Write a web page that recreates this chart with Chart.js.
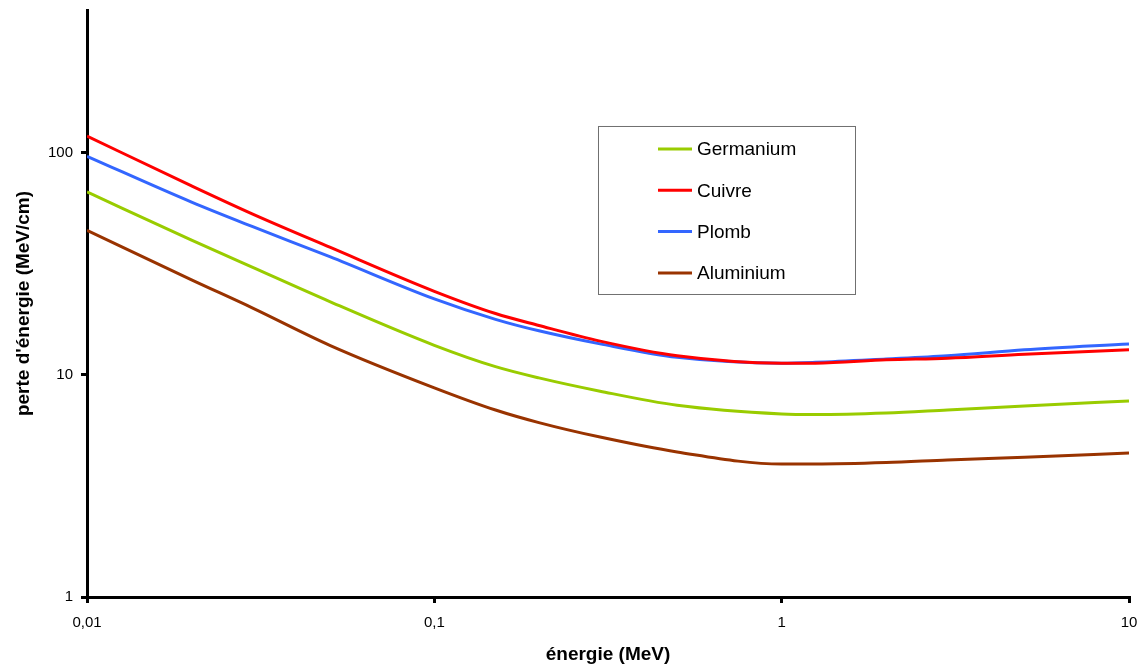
<!DOCTYPE html>
<html lang="fr">
<head>
    <meta charset="UTF-8">
    <title>perte d'énergie</title>
    <script src="https://cdn.jsdelivr.net/npm/chart.js"></script>
    <style>
        html, body { margin: 0; padding: 0; background: #fff; }
        #wrap { width: 1141px; height: 666px; position: relative; }
    </style>
</head>
<body>
    <div id="wrap"><canvas id="lossChart"></canvas></div>
    <script>
        // énergie (MeV)
        const energies = [0.01, 0.02, 0.03, 0.05, 0.1, 0.15, 0.2, 0.3, 0.5, 1, 1.25, 2, 3, 5, 10];

        // perte d'énergie (MeV/cm)
        const germanium = [66.7, 40.5, 30.5, 21.4, 13.6, 10.9, 9.7, 8.45, 7.3, 6.67, 6.63, 6.74, 6.96, 7.25, 7.64];
        const cuivre    = [119, 71, 53, 37.6, 23.8, 18.9, 16.7, 14.2, 12.2, 11.3, 11.3, 11.7, 11.9, 12.4, 12.97];
        const plomb     = [96.5, 60, 46.5, 34.1, 22.0, 17.8, 15.8, 13.8, 12.0, 11.3, 11.4, 11.8, 12.2, 12.97, 13.8];
        const aluminium = [44.8, 26.8, 20, 13.6, 8.75, 6.95, 6.1, 5.25, 4.5, 3.97, 3.97, 4.03, 4.14, 4.26, 4.45];

        const xTicks = [0.01, 0.1, 1, 10];
        const xTickLabels = ['0,01', '0,1', '1', '10'];
        const yTicks = [1, 10, 100];

        const toPoints = (vals) => energies.map((e, i) => ({ x: e, y: vals[i] }));

        const makeSet = (label, vals, color) => ({
            label: label,
            data: toPoints(vals),
            borderColor: color,
            backgroundColor: color,
            borderWidth: 3,
            pointRadius: 0,
            cubicInterpolationMode: 'monotone',
            fill: false
        });

        // légende dessinée dans la zone du graphique (encadré comme Excel)
        const boxLegend = {
            id: 'boxLegend',
            afterDatasetsDraw(chart) {
                const ctx = chart.ctx;
                const a = chart.chartArea;
                const w = a.right - a.left, h = a.bottom - a.top;
                const left = a.left + w * 0.4904;
                const top = a.top + h * 0.1976;
                const bw = 257, bh = 168;
                ctx.save();
                ctx.fillStyle = '#fff';
                ctx.fillRect(left, top, bw, bh);
                ctx.strokeStyle = '#707070';
                ctx.lineWidth = 1;
                ctx.strokeRect(left + 0.5, top + 0.5, bw, bh);
                ctx.font = '19px "Liberation Sans", Arial, sans-serif';
                ctx.textBaseline = 'middle';
                chart.data.datasets.forEach((ds, i) => {
                    const y = top + 23 + i * 41.3;
                    ctx.strokeStyle = ds.borderColor;
                    ctx.lineWidth = 3;
                    ctx.beginPath();
                    ctx.moveTo(left + 60, y);
                    ctx.lineTo(left + 94, y);
                    ctx.stroke();
                    ctx.fillStyle = '#000';
                    ctx.fillText(ds.label, left + 99, y + 1);
                });
                ctx.restore();
            }
        };

        const ctx = document.getElementById('lossChart').getContext('2d');
        new Chart(ctx, {
            type: 'line',
            data: {
                datasets: [
                    makeSet('Germanium', germanium, '#99CC00'),
                    makeSet('Cuivre', cuivre, '#FF0000'),
                    makeSet('Plomb', plomb, '#3366FF'),
                    makeSet('Aluminium', aluminium, '#993300')
                ]
            },
            options: {
                responsive: true,
                maintainAspectRatio: false,
                animation: false,
                layout: { padding: { top: 10, right: 12, bottom: 0, left: 0 } },
                plugins: {
                    legend: { display: false },
                    tooltip: { enabled: false }
                },
                scales: {
                    x: {
                        type: 'logarithmic',
                        min: 0.01,
                        max: 10,
                        afterBuildTicks: (axis) => { axis.ticks = xTicks.map(v => ({ value: v })); },
                        afterFit: (axis) => {
                            axis.height = 69;
                            axis.paddingLeft = 0;
                            axis.paddingRight = 0;
                        },
                        ticks: {
                            color: '#000',
                            padding: 11,
                            maxRotation: 0,
                            font: { family: '"Liberation Sans", Arial, sans-serif', size: 15 },
                            callback: (v) => xTickLabels[xTicks.indexOf(v)] ?? ''
                        },
                        grid: { drawOnChartArea: false, drawTicks: true, tickLength: 6, color: '#000', lineWidth: 3 },
                        border: { color: '#000', width: 3 },
                        title: {
                            display: true,
                            text: 'énergie (MeV)',
                            color: '#000',
                            padding: { top: 0, bottom: 0 },
                            font: { family: '"Liberation Sans", Arial, sans-serif', size: 19, weight: 'bold' }
                        }
                    },
                    y: {
                        type: 'logarithmic',
                        min: 1,
                        max: 440,
                        afterBuildTicks: (axis) => { axis.ticks = yTicks.map(v => ({ value: v })); },
                        afterFit: (axis) => {
                            axis.width = 87;
                            axis.paddingTop = 0;
                            axis.paddingBottom = 0;
                        },
                        ticks: {
                            color: '#000',
                            padding: 8,
                            font: { family: '"Liberation Sans", Arial, sans-serif', size: 15 },
                            callback: (v) => String(v)
                        },
                        grid: { drawOnChartArea: false, drawTicks: true, tickLength: 6, color: '#000', lineWidth: 3 },
                        border: { color: '#000', width: 3 },
                        title: {
                            display: true,
                            text: "perte d'énergie (MeV/cm)",
                            color: '#000',
                            padding: { top: 12, bottom: 0 },
                            font: { family: '"Liberation Sans", Arial, sans-serif', size: 19, weight: 'bold' }
                        }
                    }
                }
            },
            plugins: [boxLegend]
        });
    </script>
</body>
</html>
